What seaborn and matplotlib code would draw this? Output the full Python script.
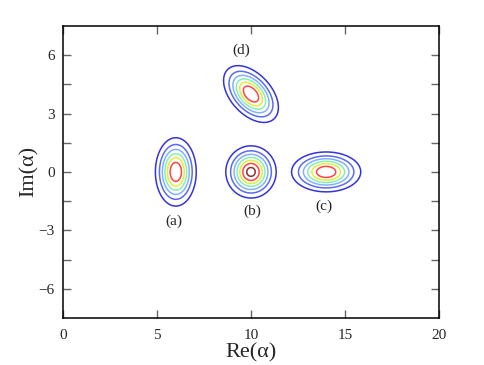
import numpy as np
import matplotlib
matplotlib.use("Agg")
import matplotlib.pyplot as plt
import seaborn as sns

# states: centre (Re, Im), peak height, widths along own axes, rotation (deg)
labels = ["(a)", "(b)", "(c)", "(d)"]
re0 = [6.0, 10.0, 14.0, 10.0]
im0 = [0.0, 0.0, 0.0, 4.0]
peak = [0.94, 1.0, 0.94, 0.94]
width_u = [0.78, 0.947, 1.32, 1.27]
width_v = [1.26, 0.947, 0.735, 0.76]
angle = [0.0, 0.0, 0.0, -45.0]

# label positions
lab_x = [5.9, 10.05, 13.9, 9.5]
lab_y = [-2.55, -2.0, -1.75, 6.25]

# contour levels and colours
levels = [0.135, 0.27, 0.405, 0.54, 0.675, 0.81, 0.945]
level_colors = ["#3434d8", "#5a6cf2", "#84b0ff", "#84f0b8", "#e6ec3c", "#ff4444", "#8c3030"]

sns.set_style("ticks")
plt.rcParams["font.family"] = ["Liberation Serif", "DejaVu Serif"]

fig = plt.figure(figsize=(4.85, 3.65), dpi=100)
ax = fig.add_axes([0.130, 0.129, 0.775, 0.800])

x = np.linspace(0, 20, 801)
y = np.linspace(-7.5, 7.5, 601)
X, Y = np.meshgrid(x, y)

for i in range(len(labels)):
    t = np.deg2rad(angle[i])
    dx = X - re0[i]
    dy = Y - im0[i]
    u = dx * np.cos(t) + dy * np.sin(t)
    v = -dx * np.sin(t) + dy * np.cos(t)
    Z = peak[i] * np.exp(-(u / width_u[i]) ** 2 - (v / width_v[i]) ** 2)
    ax.contour(X, Y, Z, levels=levels, colors=level_colors, linewidths=1.1)
    ax.text(lab_x[i], lab_y[i], labels[i], ha="center", va="center", fontsize=11)

ax.set_xlim(0, 20)
ax.set_ylim(-7.5, 7.5)
ax.set_xticks([0, 5, 10, 15, 20])
ax.set_yticks([-6, -3, 0, 3, 6])
ax.set_yticks([-4.5, -1.5, 1.5, 4.5], minor=True)
ax.set_yticklabels(["\u22126", "\u22123", "0", "3", "6"])
ax.tick_params(which="both", direction="in", length=5.5, width=1.0, color="#666666",
               top=True, right=True, labelsize=11)
ax.tick_params(axis="x", pad=8)
ax.tick_params(axis="y", pad=6)
for s in ax.spines.values():
    s.set_linewidth(1.1)
    s.set_color("black")

ax.set_xlabel("Re(\u03b1)", fontsize=16, labelpad=1)
ax.set_ylabel("Im(\u03b1)", fontsize=16, labelpad=0)

fig.savefig("out.png", dpi=100)
